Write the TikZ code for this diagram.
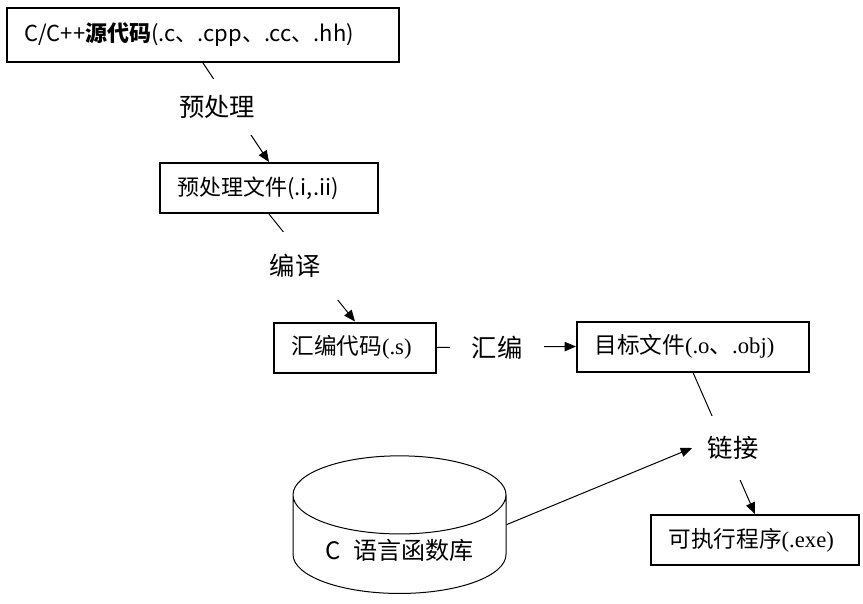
\documentclass[tikz,border=0pt]{standalone}
\usepackage{fontspec}
\setmainfont{Noto Sans CJK SC}
\newfontfamily\tnr{Liberation Serif}
\usetikzlibrary{arrows.meta,shapes.geometric}

\begin{document}
\begin{tikzpicture}[
  x=0.75pt, y=-0.75pt,
  filebox/.style={draw, line width=1.5pt, inner xsep=13pt, inner ysep=0pt, align=left, minimum height=37.5pt, font=\fontsize{17}{20}\selectfont},
  steplabel/.style={fill=white, inner sep=0pt, font=\fontsize{19}{22}\selectfont},
  flow/.style={line width=0.75pt},
  arrow/.style={flow, -{Triangle[length=8.5pt,width=7pt]}},
]
  \useasboundingbox (0,0) rectangle (863,603);
  % files of each stage
  \node[filebox, text width=268pt, minimum height=40.5pt, font=\fontsize{16.5}{19}\selectfont] (src) at (203,35) {C/C++\textbf{源代码}(.c、.cpp、.cc、.hh)};
  \node[filebox, text width=137.5pt, font=\fontsize{16.5}{19}\selectfont] (prefile) at (269,188) {预处理文件(.i,.ii)};
  \node[filebox, text width=95.5pt] (asmfile) at (355,347.5) {汇编代码{\tnr(.s)}};
  \node[filebox, text width=148pt] (objfile) at (693,346.5) {目标文件{\tnr(.o}、{\tnr.obj)}};
  \node[filebox, text width=130pt] (exefile) at (755,540) {可执行程序{\tnr(.exe)}};
  \node[cylinder, draw, flow, shape border rotate=90, aspect=0.5, minimum width=159.75pt, minimum height=103pt, font=\fontsize{18}{21}\selectfont] (lib) at (399.5,550) {C\enspace 语言函数库};

  % steps
  \draw[arrow] (src.south) -- (prefile.north);
  \draw[arrow] (prefile.south) -- (asmfile.north);
  \draw[arrow] (asmfile.east) -- (objfile.west);
  \draw[arrow] (objfile.south) -- (exefile.north);

  \node[steplabel, minimum width=60pt, minimum height=42pt] (pre) at (217,107) {预处理};
  \node[steplabel, minimum width=66pt, minimum height=51pt] (comp) at (295,266) {编译};
  \node[steplabel, minimum width=71pt, minimum height=30pt] (asm) at (497,348) {汇编};
  \node[steplabel, minimum width=61pt, minimum height=48pt] (link) at (733,448) {链接};

  \draw[arrow] (lib.shape center -| lib.east) -- (link.west);
\end{tikzpicture}
\end{document}
